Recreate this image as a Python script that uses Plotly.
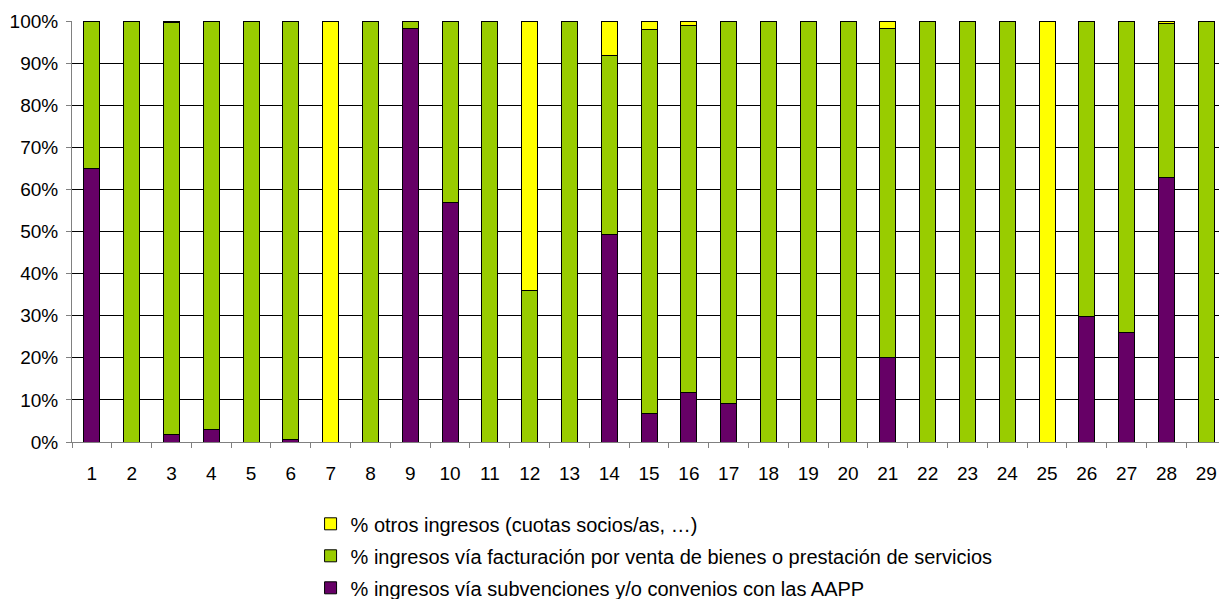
import plotly.graph_objects as go

categories = [str(i) for i in range(1, 30)]
subvenciones = [65, 0, 1.8, 3, 0, 0.7, 0, 0, 98.3, 57, 0, 0, 0, 49.2, 6.7, 11.7, 9.1, 0, 0, 0, 20.1, 0, 0, 0, 0, 29.8, 26, 62.9, 0]
facturacion = [35, 100, 97.8, 97, 100, 99.3, 0, 100, 1.7, 43, 100, 36, 100, 42.7, 91.2, 87.3, 90.9, 100, 100, 100, 78.2, 100, 100, 100, 0, 70.2, 74, 36.4, 100]
otros = [0, 0, 0.4, 0, 0, 0, 100, 0, 0, 0, 0, 64, 0, 8.1, 2.1, 1.0, 0, 0, 0, 0, 1.7, 0, 0, 0, 100, 0, 0, 0.7, 0]
tick_vals = [0, 10, 20, 30, 40, 50, 60, 70, 80, 90, 100]
tick_text = [f"{v}%" for v in tick_vals]

names = [
    "% ingresos vía subvenciones y/o convenios con las AAPP",
    "% ingresos vía facturación por venta de bienes o prestación de servicios",
    "% otros ingresos (cuotas socios/as, …)",
]
colors = ["#660066", "#99CC00", "#FFFF00"]
series = [subvenciones, facturacion, otros]

fig = go.Figure()
for i, (name, col, vals) in enumerate(zip(names, colors, series)):
    fig.add_trace(go.Bar(
        x=categories, y=vals, name=name, legendgroup=f"g{i}",
        legendrank=len(names) - i,
        marker=dict(color=col, line=dict(color="black", width=1)),
    ))

font = dict(family="Liberation Sans, Arial, sans-serif", size=19, color="black")
legend_font = dict(family="Liberation Sans, Arial, sans-serif", size=20, color="black")
fig.update_layout(
    barmode="stack",
    bargap=0.6,
    width=1219, height=599,
    margin=dict(l=72, r=0, t=21, b=157, autoexpand=False),
    plot_bgcolor="white", paper_bgcolor="white",
    font=font,
    showlegend=True,
    legend=dict(
        orientation="v", traceorder="grouped", tracegroupgap=3,
        x=0.208, xanchor="left", y=-0.148, yanchor="top",
        font=legend_font, itemwidth=30, bgcolor="rgba(0,0,0,0)",
    ),
    xaxis=dict(
        type="category", range=[-0.5, 28.32],
        tickson="boundaries", ticks="outside", ticklen=5, tickcolor="#808080",
        showline=True, linecolor="#808080", showgrid=False,
        tickfont=font, ticklabelstandoff=14,
    ),
    yaxis=dict(
        range=[0, 100], tickvals=tick_vals, ticktext=tick_text,
        ticks="outside", ticklen=5, tickcolor="#808080",
        showline=True, linecolor="#808080",
        showgrid=True, gridcolor="black", gridwidth=1,
        tickfont=font, zeroline=False, ticklabelstandoff=4,
    ),
)

fig.write_html(
    "out.html",
    config={"displayModeBar": False},
    post_script="document.body.style.margin='0';document.body.style.overflow='hidden';",
)
